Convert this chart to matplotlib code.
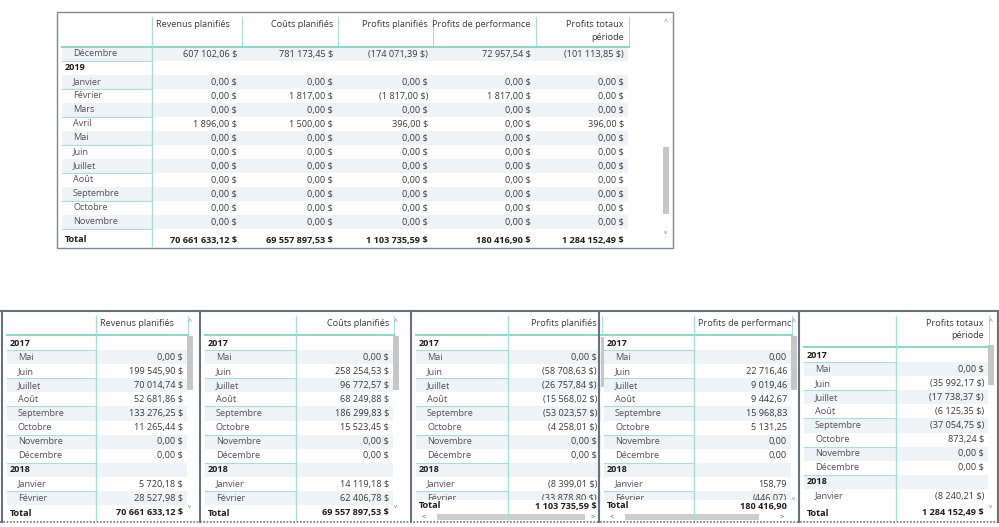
import matplotlib.pyplot as plt
from matplotlib.patches import Rectangle

plt.rcParams['font.family'] = ['Open Sans', 'DejaVu Sans']

# ---- data: top matrix (scrolled to end of 2018 / 2019) ----
top_labels = ['Décembre', '2019', 'Janvier', 'Février', 'Mars', 'Avril', 'Mai', 'Juin',
              'Juillet', 'Août', 'Septembre', 'Octobre', 'Novembre']
top_headers = ['Revenus planifiés', 'Coûts planifiés', 'Profits planifiés',
               'Profits de performance', 'Profits totaux\npériode']
top_revenus = [607102.06, None, 0, 0, 0, 1896.00, 0, 0, 0, 0, 0, 0, 0]
top_couts = [781173.45, None, 0, 1817.00, 0, 1500.00, 0, 0, 0, 0, 0, 0, 0]
top_profits = [-174071.39, None, 0, -1817.00, 0, 396.00, 0, 0, 0, 0, 0, 0, 0]
top_perf = [72957.54, None, 0, 1817.00, 0, 0, 0, 0, 0, 0, 0, 0, 0]
top_totaux = [-101113.85, None, 0, 0, 0, 396.00, 0, 0, 0, 0, 0, 0, 0]
totals = [70661633.12, 69557897.53, 1103735.59, 180416.90, 1284152.49]

# ---- data: bottom single-measure tables (scrolled to top) ----
bot_labels = ['2017', 'Mai', 'Juin', 'Juillet', 'Août', 'Septembre', 'Octobre',
              'Novembre', 'Décembre', '2018', 'Janvier', 'Février']
bot_revenus = [None, 0, 199545.90, 70014.74, 52681.86, 133276.25, 11265.44, 0, 0, None, 5720.18, 28527.98]
bot_couts = [None, 0, 258254.53, 96772.57, 68249.88, 186299.83, 15523.45, 0, 0, None, 14119.18, 62406.78]
bot_profits = [None, 0, -58708.63, -26757.84, -15568.02, -53023.57, -4258.01, 0, 0, None, -8399.01, -33878.80]
bot_perf = [None, 0, 22716.46, 9019.46, 9442.67, 15968.83, 5131.25, 0, 0, None, 158.79, -446.07]
bot_totaux = [None, 0, -35992.17, -17738.37, -6125.35, -37054.75, 873.24, 0, 0, None, -8240.21]

TEAL = '#a9ddd6'
TEAL2 = '#86d0c5'
SHADE = '#edf3f6'
BORDER = '#66737f'
TXT = '#3b3a39'
LBL = '#574e5c'
BOLD = '#201f1e'
FS = 6.6


def fmt(v, dollar=True):
    if v is None:
        return ''
    s = f"{abs(v):,.2f}".replace(',', ' ').replace('.', ',')
    if dollar:
        s += ' $'
    return f"({s})" if v < 0 else s


def vscroll(ax, x, top, bot, t0, t1):
    ax.add_patch(Rectangle((x, t0), 6, t1 - t0, color='#c6c6c6', lw=0, zorder=5))
    ax.text(x + 3, top + 6, '^', ha='center', va='center', fontsize=5, color='#777777', zorder=6)
    ax.text(x + 3, bot - 4, 'v', ha='center', va='center', fontsize=4.5, color='#777777', zorder=6)


def hscroll(ax, x0, x1, y, t0, t1):
    ax.add_patch(Rectangle((t0, y - 3), t1 - t0, 6, color='#cdcdcd', lw=0, zorder=5))
    ax.text(x0 + 3, y, '<', ha='center', va='center', fontsize=5.5, color='#555555', zorder=6)
    ax.text(x1 - 3, y, '>', ha='center', va='center', fontsize=5.5, color='#555555', zorder=6)


def draw_matrix(ax, x0, x1, y0, y1, hdr_right, col_rights, headers, hdr_left_first,
                hdr_bottom, row_y, row_h, labels, cols, tots, total_y, dollar=True,
                shade_first=False, total_band=None, line_below=False):
    left = x0 + 5
    n = max(len(v) for v in cols)
    # row shading and values
    for i, lab in enumerate(labels[:n]):
        yc = row_y + i * row_h
        shaded = (i % 2 == 0) == shade_first
        is_year = lab.isdigit()
        if shaded:
            ax.add_patch(Rectangle((left, yc - row_h / 2), col_rights[-1] + 4 - left, row_h,
                                   color=SHADE, lw=0, zorder=1))
            ly = yc + row_h / 2 if line_below else yc - row_h / 2
            ax.plot([left, hdr_right], [ly, ly], color=TEAL, lw=0.8, zorder=2)
        if is_year:
            ax.text(left + 3, yc, lab, ha='left', va='center', fontsize=FS, fontweight='bold',
                    color=BOLD, zorder=3)
        else:
            ax.text(left + 11, yc, lab, ha='left', va='center', fontsize=FS, color=LBL, zorder=3)
        for vals, r in zip(cols, col_rights):
            if i < len(vals):
                ax.text(r, yc, fmt(vals[i], dollar), ha='right', va='center', fontsize=FS,
                        color=TXT, zorder=3)
    # total row
    if total_band is not None:
        ax.add_patch(Rectangle((left, total_band[0]), x1 - left - 2, total_band[1] - total_band[0],
                               color='white', lw=0, zorder=4))
    ax.text(left + 3, total_y, 'Total', ha='left', va='center', fontsize=FS, fontweight='bold',
            color=BOLD, zorder=6)
    for t, r in zip(tots, col_rights):
        ax.text(r, total_y, fmt(t, dollar), ha='right', va='center', fontsize=FS,
                fontweight='bold', color=BOLD, zorder=6)
    # header
    hdr_top = y0 + 5
    lefts = [hdr_right] + [r + 5 for r in col_rights[:-1]]
    for j, (h, l, r) in enumerate(zip(headers, lefts, col_rights)):
        if j == 0 and hdr_left_first:
            ax.text(l + 4, hdr_top + 3, h, ha='left', va='top', fontsize=FS, color=TXT,
                    linespacing=1.5, zorder=6)
        else:
            ax.text(r, hdr_top + 3, h, ha='right', va='top', fontsize=FS, color=TXT,
                    linespacing=1.5, zorder=6, multialignment='right')
        ax.plot([r + 5, r + 5], [hdr_top, hdr_bottom], color=TEAL, lw=0.8, zorder=6)
    ax.plot([left, col_rights[-1] + 5], [hdr_bottom, hdr_bottom], color=TEAL2, lw=1.3, zorder=6)
    ax.plot([hdr_right, hdr_right], [hdr_top, y1 - 2], color=TEAL, lw=1.0, zorder=6)


fig = plt.figure(figsize=(9.99, 5.27), dpi=100)
ax = fig.add_axes([0, 0, 1, 1])
ax.set_xlim(0, 999)
ax.set_ylim(527, 0)
ax.axis('off')

# ---- top matrix ----
draw_matrix(ax, 57, 672, 12, 248, 152, [237, 333, 428, 531, 624], top_headers, True,
            47, 54, 14.0, top_labels,
            [top_revenus, top_couts, top_profits, top_perf, top_totaux], totals, 240,
            shade_first=True, line_below=True)
ax.add_patch(Rectangle((57, 12), 616, 236, fill=False, ec='#7d8b97', lw=1.0, zorder=7))
vscroll(ax, 663, 16, 236, 147, 214)

# ---- bottom panels ----
ax.plot([0, 999], [311, 311], color=BORDER, lw=1.5, zorder=8)
ax.plot([0, 999], [522, 522], color=BORDER, lw=1.2, ls=(0, (1, 1)), zorder=8)

panels = [
    # x0, x1, hdr_right, value_right, header, values, total, dollar, hdr_left, has_hscroll
    (2, 200, 96, 183, 'Revenus planifiés', bot_revenus, totals[0], True, True, False),
    (200, 411, 296, 389, 'Coûts planifiés', bot_couts, totals[1], True, False, False),
    (411, 599, 508, 597, 'Profits planifiés', bot_profits, totals[2], True, False, True),
    (599, 799, 694, 787, 'Profits de performanc', bot_perf, totals[3], False, True, True),
    (799, 999, 896, 984, 'Profits totaux\npériode', bot_totaux, totals[4], True, False, False),
]
for x0, x1, hr, vr, hdr, vals, tot, dol, hl, hs in panels:
    two_line = '\n' in hdr
    hb = 347 if two_line else 335
    ry = 355 if two_line else 343
    ty = 506 if hs else 513
    band = (500, 512) if hs else (506, 521)
    draw_matrix(ax, x0, x1, 311, 522, hr, [vr], [hdr], hl, hb, ry, 14.1,
                bot_labels, [vals], [tot], ty, dollar=dol, shade_first=False,
                total_band=band)
    if x0 != 411:
        vscroll(ax, vr + 4, 317, 510 if not hs else 502, 336 if not two_line else 345,
                390 if not two_line else 385)
    if hs:
        hscroll(ax, x0 + 10, x1 - 14 if x0 == 599 else x1 - 3, 517,
                x0 + 26, x1 - 40 if x0 == 599 else x1 - 14)
    ax.plot([x0, x0], [311, 522], color=BORDER, lw=1.5, zorder=8)
ax.plot([998, 998], [311, 522], color=BORDER, lw=1.5, zorder=8)
ax.add_patch(Rectangle((601, 337), 3, 50, color='#c6c6c6', lw=0, zorder=5))

fig.savefig('out.png', dpi=100, facecolor='white')
